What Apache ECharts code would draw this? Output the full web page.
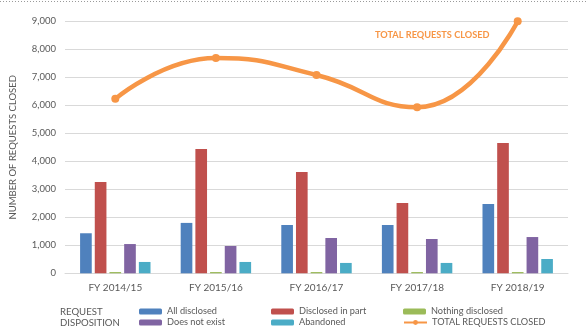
<!DOCTYPE html>
<html>
<head>
<meta charset="utf-8">
<script src="https://cdn.jsdelivr.net/npm/echarts@6/dist/echarts.min.js"></script>
<style>
  html, body { margin: 0; padding: 0; background: #ffffff; }
  #chart { width: 586px; height: 332px; }
</style>
</head>
<body>
<div id="chart"></div>
<script>
// Fiscal years on the category axis
const years = ['FY 2014/15', 'FY 2015/16', 'FY 2016/17', 'FY 2017/18', 'FY 2018/19'];

// Request disposition counts per fiscal year
const allDisclosed     = [1430, 1800, 1725, 1725, 2475];
const disclosedInPart  = [3260, 4440, 3620, 2510, 4655];
const nothingDisclosed = [45, 45, 45, 45, 45];
const doesNotExist     = [1045, 975, 1260, 1225, 1295];
const abandoned        = [405, 405, 370, 370, 510];

// Total requests closed per fiscal year
const totalClosed = [6230, 7690, 7080, 5930, 9000];

// Value-axis ticks
const yMin = 0, yMax = 9000, yStep = 1000;

const FONT = 'Lato';
const TEXT = '#595959';

const barColors = ['#4F81BD', '#C0504D', '#9BBB59', '#8064A2', '#4BACC6'];
const lineColor = '#F79646';

function barSeries(name, data, color) {
  return {
    name: name,
    type: 'bar',
    data: data,
    itemStyle: { color: color },
    barGap: '26%',
    barCategoryGap: '30%'
  };
}

function legendAt(name, left, top) {
  return {
    data: [name],
    left: left,
    top: top,
    padding: 0,
    itemWidth: 23,
    itemHeight: 6,
    itemGap: 0,
    selectedMode: false,
    textStyle: { color: TEXT, fontSize: 9.2, fontFamily: FONT }
  };
}

const chart = echarts.init(document.getElementById('chart'), null, { renderer: 'canvas' });

chart.setOption({
  animation: false,
  backgroundColor: '#ffffff',
  textStyle: { fontFamily: FONT },
  grid: { left: 61, right: 18, top: 21.3, bottom: 58.7 },
  xAxis: {
    type: 'category',
    data: years,
    axisLine: { lineStyle: { color: '#D9D9D9' } },
    axisTick: { show: false },
    axisLabel: { color: TEXT, fontSize: 10, fontFamily: FONT, margin: 9 }
  },
  yAxis: {
    type: 'value',
    min: yMin,
    max: yMax,
    interval: yStep,
    name: 'NUMBER OF REQUESTS CLOSED',
    nameLocation: 'middle',
    nameRotate: 90,
    nameGap: 47,
    nameTextStyle: { color: TEXT, fontSize: 9.5, fontFamily: FONT },
    axisLine: { show: false },
    axisTick: { show: false },
    splitLine: { lineStyle: { color: '#D9D9D9' } },
    axisLabel: {
      color: TEXT, fontSize: 9.5, fontFamily: FONT, margin: 9,
      formatter: v => v.toLocaleString('en-US')
    }
  },
  legend: [
    legendAt('All disclosed', 139, 307),
    legendAt('Does not exist', 139, 318),
    legendAt('Disclosed in part', 271, 307),
    legendAt('Abandoned', 271, 318),
    legendAt('Nothing disclosed', 403, 307),
    legendAt('TOTAL REQUESTS CLOSED', 403, 318)
  ],
  graphic: [
    {
      type: 'line',
      shape: { x1: 0, y1: 1.5, x2: 586, y2: 1.5 },
      style: { stroke: '#9a9a9a', lineWidth: 1, lineDash: [1, 2] },
      silent: true
    },
    {
      type: 'text',
      left: 60, top: 306,
      style: { text: 'REQUEST\nDISPOSITION', fill: TEXT, fontSize: 9.6, fontFamily: FONT, lineHeight: 11.5 }
    },
    {
      type: 'text',
      left: 375, top: 31,
      style: { text: 'TOTAL REQUESTS CLOSED', fill: lineColor, fontSize: 9.2, fontWeight: 'bold', fontFamily: FONT }
    }
  ],
  series: [
    barSeries('All disclosed', allDisclosed, barColors[0]),
    barSeries('Disclosed in part', disclosedInPart, barColors[1]),
    barSeries('Nothing disclosed', nothingDisclosed, barColors[2]),
    barSeries('Does not exist', doesNotExist, barColors[3]),
    barSeries('Abandoned', abandoned, barColors[4]),
    {
      name: 'TOTAL REQUESTS CLOSED',
      type: 'line',
      data: totalClosed,
      smooth: 0.5,
      symbol: 'circle',
      symbolSize: 8,
      lineStyle: { color: lineColor, width: 4.5 },
      itemStyle: { color: lineColor },
      z: 5
    }
  ]
});
</script>
</body>
</html>
